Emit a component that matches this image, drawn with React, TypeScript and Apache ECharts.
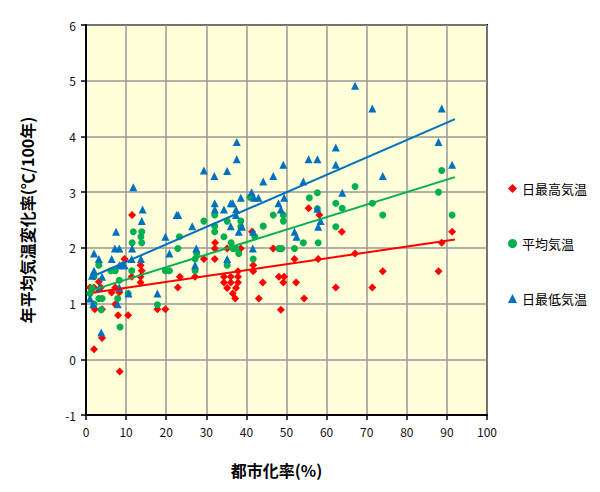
import React, { useEffect, useRef } from "react";
import * as echarts from "echarts";

const seriesNames = ["日最高気温", "平均気温", "日最低気温"];
const xTicks = { min: 0, max: 100, interval: 10 };
const yTicks = { min: -1, max: 6, interval: 1 };

const maxTemp: number[][] = [
  [11.5, 2.59], [9.6, 1.8], [13.6, 1.69], [13.9, 1.59], [11.4, 1.48], [13.6, 1.48], [13.6, 1.38],
  [1.0, 1.29], [2.0, 1.29], [3.7, 1.29], [6.4, 1.2], [7.3, 1.29], [8.3, 1.2], [7.3, 0.99],
  [2.2, 0.9], [4.0, 0.9], [8.0, 0.79], [10.5, 0.79], [4.0, 0.38], [2.0, 0.18], [8.4, -0.22],
  [17.8, 0.9], [19.8, 0.9], [22.9, 1.29], [23.4, 1.48], [27.2, 1.48], [29.4, 1.8], [32.1, 1.8],
  [32.1, 1.99], [32.2, 2.09], [35.2, 1.99], [38.6, 1.99], [41.4, 2.29], [34.4, 1.48], [36.1, 1.48],
  [37.9, 1.58], [37.9, 1.48], [34.4, 1.38], [36.1, 1.38], [37.9, 1.38], [35.2, 1.28], [37.4, 1.28],
  [36.6, 1.18], [37.2, 1.09], [41.7, 1.69], [41.7, 1.58], [44.1, 1.38], [43.1, 1.09], [46.7, 1.99],
  [48.1, 1.48], [49.4, 1.48], [49.2, 1.38], [48.6, 0.89], [52.0, 1.8], [52.4, 1.38], [54.4, 1.09],
  [55.5, 2.71], [57.9, 1.8], [58.2, 2.59], [62.3, 1.29], [63.8, 2.29], [67.1, 1.9], [71.4, 1.29],
  [74.0, 1.58], [87.9, 1.58], [88.7, 2.09], [91.3, 2.29], [3.2, 1.39], [1.2, 1.2],
];

const meanTemp: number[][] = [
  [11.8, 2.29], [13.9, 2.29], [11.5, 2.09], [13.9, 2.09], [13.7, 2.2], [11.4, 1.59], [6.2, 1.59],
  [7.3, 1.59], [3.2, 1.69], [2.0, 1.48], [1.0, 1.18], [2.0, 0.99], [3.2, 1.09], [4.0, 1.09],
  [3.8, 0.89], [7.9, 1.09], [8.5, 0.58], [10.5, 1.18], [9.1, 1.69], [17.8, 0.98], [19.8, 1.59],
  [20.8, 1.59], [22.9, 1.99], [23.3, 2.2], [27.2, 1.8], [27.6, 1.9], [27.2, 1.59], [29.4, 2.48],
  [32.1, 2.59], [32.1, 2.39], [32.1, 2.29], [35.2, 2.48], [34.4, 2.2], [36.2, 2.09], [36.6, 1.99],
  [37.4, 1.99], [38.1, 1.9], [38.6, 2.48], [38.6, 2.38], [35.2, 1.69], [41.7, 1.8], [42.1, 2.2],
  [44.2, 2.39], [46.7, 2.59], [48.1, 1.99], [48.8, 1.99], [49.2, 2.59], [49.2, 2.48], [52.0, 1.99],
  [54.2, 2.09], [57.9, 2.09], [62.3, 2.38], [40.9, 2.91], [55.7, 2.9], [57.7, 2.99], [62.3, 2.8],
  [57.7, 2.7], [63.9, 2.71], [67.1, 3.1], [71.4, 2.8], [74.0, 2.59], [87.9, 3.0], [88.7, 3.39],
  [91.3, 2.59], [1.5, 1.28], [8.3, 1.42],
];

const minTemp: number[][] = [
  [11.8, 3.09], [14.1, 2.69], [23.0, 2.59], [22.6, 2.59], [29.4, 3.39], [32.0, 3.29], [32.1, 2.8],
  [32.1, 2.69], [37.6, 3.9], [37.6, 3.59], [35.2, 3.38], [49.2, 3.49], [46.7, 3.29], [44.2, 3.19],
  [41.3, 3.0], [43.0, 2.9], [41.9, 2.9], [54.2, 3.19], [55.5, 3.59], [57.7, 3.59], [62.3, 3.8],
  [62.3, 3.49], [38.6, 2.9], [34.4, 2.69], [36.1, 2.8], [36.6, 2.8], [37.4, 2.69], [37.4, 2.59],
  [48.0, 2.8], [48.6, 2.69], [49.4, 2.9], [57.7, 2.7], [36.1, 2.39], [38.1, 2.29], [38.9, 2.38],
  [41.7, 2.29], [41.6, 1.99], [35.2, 1.8], [52.0, 2.29], [52.5, 2.2], [58.5, 2.48], [57.9, 2.38],
  [13.9, 2.48], [7.5, 2.29], [7.2, 1.99], [8.3, 1.99], [11.5, 1.99], [6.4, 1.8], [3.2, 1.8],
  [2.0, 1.9], [2.0, 1.59], [4.0, 1.48], [8.3, 1.69], [9.1, 1.69], [9.6, 1.69], [11.4, 1.8],
  [13.7, 1.8], [1.0, 1.09], [1.8, 0.99], [7.9, 0.99], [10.6, 1.18], [3.3, 1.29], [8.3, 1.29],
  [17.8, 1.18], [20.8, 1.9], [19.8, 2.2], [26.5, 2.39], [27.5, 1.99], [27.2, 1.69], [3.8, 0.48],
  [67.1, 4.91], [71.4, 4.5], [88.7, 4.5], [87.9, 3.9], [91.3, 3.49], [74.0, 3.29], [63.9, 2.99],
  [1.5, 1.5],
];

const maxTrend: number[][] = [[2, 1.2], [92, 2.15]];
const meanTrend: number[][] = [[2, 1.25], [92, 3.27]];
const minTrend: number[][] = [[2, 1.5], [92, 4.31]];

const colors = ["#FF0000", "#00B050", "#0070C0"];
const font = "'Noto Sans CJK JP', 'Noto Sans', sans-serif";

export default function App() {
  const ref = useRef<HTMLDivElement>(null);
  useEffect(() => {
    if (!ref.current) return;
    const chart = echarts.init(ref.current, null, { renderer: "svg" });
    const scatter = (name: string, data: number[][], color: string, symbol: string, size: number) => ({
      name,
      type: "scatter",
      data,
      symbol,
      symbolSize: size,
      itemStyle: { color, opacity: 1 },
      z: 3,
    });
    const trend = (data: number[][], color: string) => ({
      type: "line",
      data,
      showSymbol: false,
      symbol: "none",
      lineStyle: { color, width: 2 },
      z: 4,
      silent: true,
    });
    chart.setOption({
      animation: false,
      textStyle: { fontFamily: font },
      grid: {
        left: 86,
        right: 113,
        top: 25,
        bottom: 77,
        show: true,
        backgroundColor: "#FFFFDA",
        borderColor: "#000",
        borderWidth: 2,
      },
      legend: {
        orient: "vertical",
        left: 503,
        top: 177,
        itemGap: 42,
        itemWidth: 9,
        itemHeight: 9,
        textStyle: { fontSize: 13, color: "#000", fontFamily: font },
        data: [
          { name: seriesNames[0], icon: "diamond" },
          { name: seriesNames[1], icon: "circle" },
          { name: seriesNames[2], icon: "triangle" },
        ],
      },
      xAxis: {
        type: "value",
        min: xTicks.min,
        max: xTicks.max,
        interval: xTicks.interval,
        name: "都市化率(%)",
        nameLocation: "middle",
        nameGap: 47,
        nameTextStyle: { fontSize: 16, fontWeight: "bold", color: "#000", padding: [0, 20, 0, 0] },
        axisLine: { show: true, onZero: false, lineStyle: { color: "#000", width: 2 } },
        axisTick: { show: true, length: 5, lineStyle: { color: "#000", width: 1.5 } },
        axisLabel: { fontSize: 12, color: "#111", margin: 10 },
        splitLine: { show: true, lineStyle: { color: "#999", width: 1.5 } },
      },
      yAxis: {
        type: "value",
        min: yTicks.min,
        max: yTicks.max,
        interval: yTicks.interval,
        name: "年平均気温変化率(℃/100年)",
        nameLocation: "middle",
        nameGap: 51,
        nameRotate: 90,
        nameTextStyle: { fontSize: 16, fontWeight: "bold", color: "#000" },
        axisLine: { show: true, onZero: false, lineStyle: { color: "#000", width: 2 } },
        axisTick: { show: true, length: 5, lineStyle: { color: "#000", width: 1.5 } },
        axisLabel: { fontSize: 12, color: "#111", margin: 10 },
        splitLine: { show: true, lineStyle: { color: "#999", width: 1.5 } },
      },
      series: [
        scatter(seriesNames[0], maxTemp, colors[0], "diamond", 8),
        scatter(seriesNames[1], meanTemp, colors[1], "circle", 7),
        scatter(seriesNames[2], minTemp, colors[2], "triangle", 8),
        trend(maxTrend, colors[0]),
        trend(meanTrend, colors[1]),
        trend(minTrend, colors[2]),
      ],
    });
    return () => chart.dispose();
  }, []);
  return <div ref={ref} style={{ width: 600, height: 492, position: "absolute", left: 0, top: 0 }} />;
}
